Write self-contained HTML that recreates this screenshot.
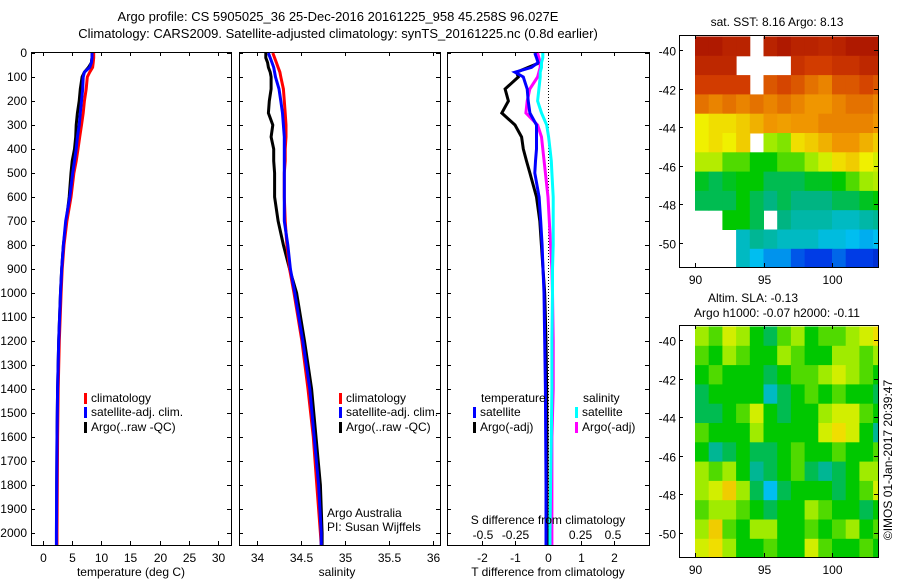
<!DOCTYPE html>
<html><head><meta charset="utf-8"><style>
body{margin:0;background:#fff;}
svg{display:block;font-family:"Liberation Sans",sans-serif;}
text{font-size:12px;fill:#000;}
</style></head><body>
<svg id="fig" width="900" height="580" viewBox="0 0 900 580">
<text x="338" y="21" text-anchor="middle" style="font-size:13px">Argo profile: CS 5905025_36 25-Dec-2016 20161225_958 45.258S 96.027E</text>
<text x="338" y="38" text-anchor="middle" style="font-size:13px">Climatology: CARS2009. Satellite-adjusted climatology: synTS_20161225.nc (0.8d earlier)</text>
<g id="g"></g>
</svg>
<script>
// ---- data ----
const depths=[0,20,40,60,80,100,150,200,250,300,350,400,450,500,600,700,800,900,1000,1200,1400,1600,1800,2000,2050];
const climT=[8.7,8.7,8.6,8.5,8.0,7.6,7.4,7.1,6.9,6.6,6.3,6.0,5.7,5.3,4.8,4.1,3.6,3.3,3.1,2.8,2.6,2.5,2.45,2.4,2.4];
const satT=[8.4,8.4,8.3,8.0,7.1,6.9,6.8,6.6,6.4,6.2,5.9,5.7,5.4,5.1,4.6,3.9,3.5,3.2,3.0,2.7,2.5,2.4,2.35,2.3,2.3];
const argoT=[8.4,8.4,8.3,7.8,7.1,6.7,6.4,6.2,5.9,5.7,5.6,5.4,5.0,4.8,4.5,4.0,3.5,3.2,3.0,2.7,2.5,2.4,2.35,2.35,2.35];
const climS=[34.18,34.2,34.22,34.24,34.26,34.27,34.3,34.31,34.32,34.33,34.33,34.32,34.32,34.31,34.31,34.32,34.34,34.37,34.42,34.51,34.58,34.64,34.68,34.72,34.73];
const satS=[34.13,34.15,34.17,34.19,34.2,34.21,34.25,34.27,34.29,34.3,34.31,34.31,34.31,34.31,34.31,34.31,34.35,34.38,34.43,34.52,34.6,34.65,34.7,34.73,34.73];
const argoS=[34.10,34.10,34.12,34.13,34.15,34.16,34.16,34.14,34.13,34.18,34.16,34.19,34.19,34.2,34.2,34.24,34.3,34.37,34.45,34.54,34.62,34.67,34.72,34.74,34.74];
const tDiffSat=[-.4,-.35,-.3,-.5,-1.0,-.75,-.63,-.6,-.55,-.35,-.35,-.35,-.38,-.4,-.27,-.22,-.18,-.15,-.12,-.1,-.08,-.07,-.06,-.06,-.06];
const tDiffArgo=[-.35,-.3,-.25,-.6,-.95,-.9,-1.3,-1.2,-1.4,-1.0,-.8,-.75,-.65,-.55,-.35,-.25,-.2,-.15,-.1,-.06,-.04,-.03,-.03,-.03,-.03];
const sDiffSat=[-.04,-.04,-.05,-.05,-.06,-.06,-.07,-.08,-.05,-.01,.005,.015,.025,.03,.04,.04,.04,.035,.035,.03,.03,.025,.02,.015,.015];
const sDiffArgo=[-.08,-.07,-.06,-.06,-.07,-.08,-.14,-.16,-.17,-.08,-.05,-.04,-.03,-.02,0,.01,.02,.03,.035,.04,.04,.03,.03,.03,.03];
const depthTicks=[0,100,200,300,400,500,600,700,800,900,1000,1100,1200,1300,1400,1500,1600,1700,1800,1900,2000];
const tempTicks=[0,5,10,15,20,25,30];
const salTicks=[34,34.5,35,35.5,36];
const tDiffTicks=[-2,-1,0,1,2];
const sDiffTicks=[-0.5,-0.25,0,0.25,0.5];
const sDiffTickLabels=["-0.5","-0.25","0","0.25","0.5"];
const lonTicks=[90,95,100];
const latTicks=[-40,-42,-44,-46,-48,-50];
// SST map grid (1deg cells from lon 90, lat -39.3 downward); -1 = no data
const sstGrid=[
[.95,.95,.93,.93,-1,.93,.95,.93,.93,.92,.93,.95,.95,.95],
[.92,.92,.92,-1,-1,-1,-1,.9,.88,.88,.9,.9,.92,.92],
[.88,.88,.88,.88,-1,.85,.87,.85,.82,.8,.85,.85,.87,.85],
[.82,.8,.82,.8,.82,.8,.82,.8,.78,.78,.8,.82,.82,.8],
[.68,.7,.7,.72,.75,.78,.77,.78,.78,.8,.8,.8,.8,.78],
[.68,.7,.68,.72,-1,.6,.58,.7,.72,.75,.78,.78,.75,.72],
[.62,.62,.55,.55,.5,.5,.55,.55,.6,.65,.7,.72,.68,.65],
[.48,.45,.48,.5,.5,.45,.45,.45,.48,.48,.5,.55,.6,.62],
[.45,.45,.45,.5,.45,.42,.45,.42,.42,.42,.45,.45,.48,.5],
[-1,-1,.5,.5,.45,-1,.42,.38,.38,.38,.35,.35,.38,.4],
[-1,-1,-1,.35,.4,.38,.35,.35,.35,.32,.32,.3,.28,.3],
[-1,-1,-1,.35,.3,.25,.25,.18,.15,.15,.2,.15,.15,.12]];
const slaGrid=[
[.6,.55,.65,.6,.5,.45,.55,.6,.5,.55,.55,.6,.65,.7],
[.55,.5,.6,.55,.5,.5,.6,.55,.5,.5,.6,.6,.55,.6],
[.5,.55,.5,.5,.5,.45,.5,.55,.55,.6,.65,.6,.55,.5],
[.45,.5,.5,.5,.5,.35,.45,.5,.55,.5,.55,.5,.5,.45],
[.45,.45,.5,.55,.65,.5,.45,.5,.5,.6,.65,.65,.55,.5],
[.55,.5,.5,.5,.6,.5,.5,.5,.5,.65,.7,.65,.5,.4],
[.5,.4,.45,.5,.45,.45,.5,.55,.5,.5,.55,.5,.5,.55],
[.6,.55,.6,.5,.4,.45,.5,.55,.45,.4,.45,.5,.6,.6],
[.6,.65,.72,.6,.45,.3,.45,.5,.5,.5,.45,.5,.55,.65],
[.55,.6,.6,.55,.5,.45,.5,.5,.6,.55,.5,.5,.45,.5],
[.6,.72,.55,.5,.6,.6,.5,.5,.55,.5,.55,.6,.5,.55],
[.65,.7,.6,.5,.5,.55,.5,.5,.65,.55,.5,.5,.55,.5]];

const NS="http://www.w3.org/2000/svg";
const G=document.getElementById('g');
function mk(tag,attrs,parent){const e=document.createElementNS(NS,tag);for(const k in attrs)e.setAttribute(k,attrs[k]);(parent||G).appendChild(e);return e;}
function txt(x,y,s,anchor,parent){const t=mk('text',{x:x,y:y,'text-anchor':anchor||'start'},parent);t.textContent=s;return t;}

const TOP=52,BOT=545;
const yD=d=>53+d*0.24;
const xT=v=>43+v*5.833;
const xS=v=>257+(v-34)*88;
const xTd=v=>548+v*33;
const xSd=v=>548+v*130;

function panel(name,x0,x1){
  const r=mk('rect',{x:x0+.5,y:TOP+.5,width:x1-x0,height:BOT-TOP,fill:'none',stroke:'#000','stroke-width':1});
  
  
  depthTicks.forEach(d=>{const y=Math.round(yD(d))+.5;mk('line',{x1:x0,x2:x0+4,y1:y,y2:y,stroke:'#000'});mk('line',{x1:x1-4,x2:x1,y1:y,y2:y,stroke:'#000'});});
}
function xticks(vals,fx,x0,x1,labels,ly){
  vals.forEach((v,i)=>{const x=Math.round(fx(v))+.5;mk('line',{x1:x,x2:x,y1:TOP,y2:TOP+4,stroke:'#000'});mk('line',{x1:x,x2:x,y1:BOT-4,y2:BOT,stroke:'#000'});
    if(labels){const t=txt(x,ly,labels[i],'middle');}});
}
function line(xs,fx,color,name){
  const pts=xs.map((v,i)=>fx(v).toFixed(1)+','+Math.min(yD(depths[i]),BOT).toFixed(1)).join(' ');
  const p=mk('polyline',{points:pts,fill:'none',stroke:color,'stroke-width':3});
  
  
}
function legend(x,y,color,label){
  mk('rect',{x:x,y:y-9,width:3,height:11,fill:color});
  const t=txt(x+7,y,label);
  
  
}

// Panel 1 temperature
panel('temperature-panel',31,231);
depthTicks.forEach(d=>{const t=txt(27,yD(d)+4,String(d),'end');});
xticks(tempTicks,xT,31,231,tempTicks.map(String),562);
line(argoT,xT,'#000','argo-temperature-line');
line(climT,xT,'#f00','climatology-temperature-line');
line(satT,xT,'#00f','satellite-temperature-line');
legend(84,402,'#f00','climatology');legend(84,416,'#00f','satellite-adj. clim.');legend(84,431,'#000','Argo(..raw -QC)');
txt(131,576,'temperature (deg C)','middle');

// Panel 2 salinity
panel('salinity-panel',239,440);
xticks(salTicks,xS,239,440,salTicks.map(String),562);
line(argoS,xS,'#000','argo-salinity-line');
line(climS,xS,'#f00','climatology-salinity-line');
line(satS,xS,'#00f','satellite-salinity-line');
legend(339,402,'#f00','climatology');legend(339,416,'#00f','satellite-adj. clim.');legend(339,431,'#000','Argo(..raw -QC)');
txt(327,517,'Argo Australia');txt(327,531,'PI: Susan Wijffels');
txt(337,576,'salinity','middle');

// Panel 3 differences
panel('difference-panel',447,649);
xticks(tDiffTicks,xTd,447,649,tDiffTicks.map(String),562);
sDiffTicks.forEach((v,i)=>{const t=txt(xSd(v),539,sDiffTickLabels[i],'middle');});
mk('line',{x1:548.5,x2:548.5,y1:TOP,y2:BOT,stroke:'#000','stroke-dasharray':'1,2'});
line(tDiffArgo,xTd,'#000','argo-t-diff-line');
line(sDiffArgo,xSd,'#f0f','argo-s-diff-line');
line(sDiffSat,xSd,'#0ff','satellite-s-diff-line');
line(tDiffSat,xTd,'#00f','satellite-t-diff-line');
txt(481,402,'temperature');txt(583,402,'salinity');
legend(473,416,'#00f','satellite');legend(473,431,'#000','Argo(-adj)');
legend(575,416,'#0ff','satellite');legend(575,431,'#f0f','Argo(-adj)');
txt(548,524,'S difference from climatology','middle');
txt(548,576,'T difference from climatology','middle');

// Maps
function lerp(a,b,t){return Math.round(a+(b-a)*t);}
const stops=[[0,[0,0,140]],[.15,[0,60,230]],[.3,[0,190,240]],[.42,[0,180,130]],[.5,[0,200,0]],[.6,[160,235,0]],[.68,[240,240,0]],[.78,[240,150,0]],[.88,[210,60,0]],[1,[150,0,0]]];
function cmap(v){for(let i=1;i<stops.length;i++){if(v<=stops[i][0]){const a=stops[i-1],b=stops[i],t=(v-a[0])/(b[0]-a[0]);return 'rgb('+lerp(a[1][0],b[1][0],t)+','+lerp(a[1][1],b[1][1],t)+','+lerp(a[1][2],b[1][2],t)+')';}}return 'rgb(150,0,0)';}
function map(name,top,bot,grid,cells){
  const L=679,R=878;
  const xL=lon=>695+(lon-90)*13.7;
  const y0=top+15; // lat -40 at y0
  const yL=lat=>y0+(-40-lat)*19.3;
  const cg=mk('g',{});
  
  
  const clip='c'+top;
  const cp=mk('clipPath',{id:clip});mk('rect',{x:L,y:top,width:R-L,height:bot-top},cp);
  cg.setAttribute('clip-path','url(#'+clip+')');
  grid.forEach((row,r)=>row.forEach((v,c)=>{
    if(v<0)return;
    const x=xL(90+c),y=yL(-39.3-r);
    const cell=mk('rect',{x:x.toFixed(1),y:y.toFixed(1),width:14.2,height:19.8,fill:cmap(v)},cg);
    
    
  }));
  const fr=mk('rect',{x:L+.5,y:top+.5,width:R-L,height:bot-top,fill:'none',stroke:'#000'});
  
  
  lonTicks.forEach(v=>{const x=Math.round(xL(v))+.5;mk('line',{x1:x,x2:x,y1:top,y2:top+4,stroke:'#000'});mk('line',{x1:x,x2:x,y1:bot-4,y2:bot,stroke:'#000'});txt(x,bot+17,String(v),'middle');});
  latTicks.forEach(v=>{const y=Math.round(yL(v))+.5;mk('line',{x1:L,x2:L+4,y1:y,y2:y,stroke:'#000'});mk('line',{x1:R-4,x2:R,y1:y,y2:y,stroke:'#000'});txt(676,y+5,String(v),'end');});
}
map('sst-map',35,267,sstGrid,'sst-cells');
map('sla-map',325,557,slaGrid,'sla-cells');
txt(777,26,'sat. SST: 8.16 Argo: 8.13','middle');
txt(753,302,'Altim. SLA: -0.13','middle');
txt(777,317,'Argo h1000: -0.07 h2000: -0.11','middle');
const cr=txt(0,0,'©IMOS 01-Jan-2017 20:39:47','middle');
cr.setAttribute('transform','translate(892,460) rotate(-90)');


</script>
</body></html>
